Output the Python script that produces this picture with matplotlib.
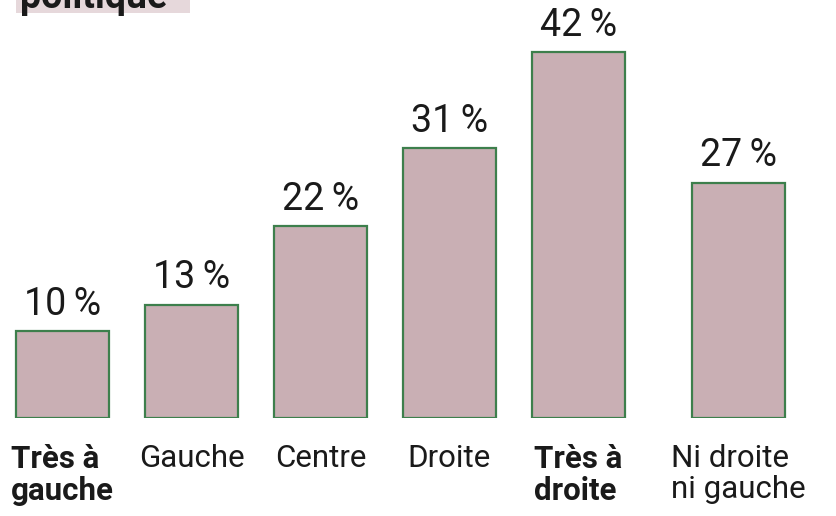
import matplotlib
matplotlib.use("Agg")
import matplotlib.pyplot as plt
from matplotlib import font_manager
from matplotlib.patches import Rectangle

categories = ["Très à\ngauche", "Gauche", "Centre", "Droite", "Très à\ndroite", "Ni droite\nni gauche"]
values = [10, 13, 22, 31, 42, 27]
bold_flags = [True, False, False, False, True, False]
positions = [0, 1, 2, 3, 4, 5.24]
title_text = "politique"

names = {f.name for f in font_manager.fontManager.ttflist}
cond = "Liberation Sans Narrow" if "Liberation Sans Narrow" in names else "Roboto"

W, H = 837, 516
fig = plt.figure(figsize=(W / 100, H / 100), dpi=100)
fig.patch.set_facecolor("white")

ax = fig.add_axes([0, (H - 418) / H, 1, 418 / H])
ax.set_xlim(-62.5 / 129, (837 - 62.5) / 129)
ax.set_ylim(0, 418 / 8.71)
ax.axis("off")

bars = ax.bar(positions, values, width=0.72, color="#c9afb4",
              edgecolor="#3d7f4c", linewidth=1.6)

for x, v in zip(positions, values):
    ax.annotate(f"{v}\u202f%", (x, v), xytext=(0, 6), textcoords="offset points",
                ha="center", va="bottom", fontsize=27, color="#1a1a1a",
                family=["Roboto", "DejaVu Sans"], fontweight="normal")

for x, lab, b in zip(positions, categories, bold_flags):
    ax.annotate(lab, (x, 0), xytext=(0, -19), textcoords="offset points",
                ha="center", va="top", multialignment="left",
                fontsize=22.5, linespacing=1.05, color="#1a1a1a",
                family=[cond, "DejaVu Sans"],
                fontweight="bold" if b else "normal", annotation_clip=False)

fig.patches.append(Rectangle((16 / W, 1 - 13 / H), (190 - 16) / W, 13 / H,
                             transform=fig.transFigure, facecolor="#e6d8db",
                             edgecolor="none", zorder=0))
fig.text(20 / W, 1 - 8 / H, title_text, fontsize=27, fontweight="bold",
         color="#1a1a1a", va="baseline", ha="left", family=["Roboto", "DejaVu Sans"])

fig.savefig("out.png", dpi=100)
